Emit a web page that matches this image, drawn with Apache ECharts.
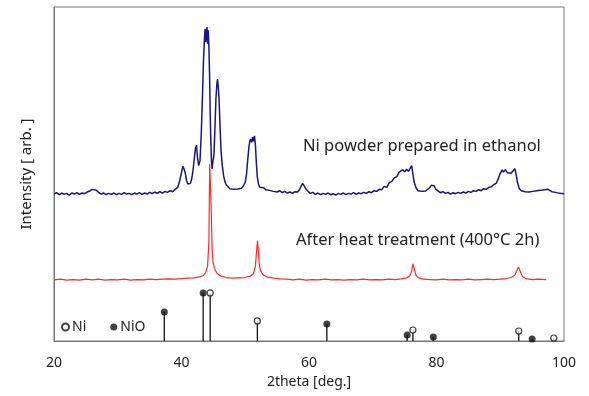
<!DOCTYPE html>
<html>
<head>
<meta charset="utf-8">
<script src="https://cdn.jsdelivr.net/npm/echarts@6/dist/echarts.min.js"></script>
<style>html,body{margin:0;padding:0;background:#fff}#c{width:589px;height:396px}</style>
</head>
<body>
<div id="c"></div>
<script>
// X-ray diffraction patterns (2theta in degrees, intensity in arbitrary units)
const niPowder = [
[20.0,44.0],[20.4,44.4],[20.8,43.8],[21.2,44.3],[21.6,43.9],[22.0,44.2],[22.4,43.7],[22.8,44.3],[23.2,44.0],[23.6,44.4],
[24.0,43.9],[24.4,44.3],[24.8,44.1],[25.2,44.6],[25.6,44.9],[26.0,45.4],[26.3,45.1],[26.6,45.2],[27.0,44.5],[27.4,44.0],
[27.8,44.3],[28.2,43.8],[28.6,44.2],[29.0,43.9],[29.4,44.3],[29.8,43.8],[30.2,44.2],[30.6,43.9],[31.0,44.4],[31.4,44.0],
[31.8,44.2],[32.2,43.8],[32.6,44.3],[33.0,44.0],[33.4,44.4],[33.8,43.9],[34.2,44.3],[34.6,44.0],[35.0,44.5],[35.4,44.1],
[35.8,44.6],[36.2,44.2],[36.6,44.7],[37.0,44.3],[37.4,44.8],[37.8,44.5],[38.2,45.0],[38.6,44.7],[39.0,45.4],[39.4,46.0],
[39.7,47.8],[40.0,50.5],[40.2,52.3],[40.4,51.5],[40.6,50.2],[40.8,48.0],[41.0,47.0],[41.2,46.6],[41.4,47.2],[41.6,48.5],
[41.8,51.0],[42.0,54.5],[42.2,57.8],[42.35,58.6],[42.5,55.0],[42.7,52.5],[42.9,54.0],[43.1,62.0],[43.3,74.0],[43.45,84.0],
[43.6,90.5],[43.7,93.5],[43.8,89.5],[43.9,92.0],[44.0,94.0],[44.1,89.0],[44.2,93.0],[44.3,88.0],[44.4,80.0],[44.5,68.0],
[44.6,60.0],[44.7,54.0],[44.8,51.5],[44.9,53.5],[45.0,54.5],[45.1,56.0],[45.25,64.0],[45.4,72.5],[45.55,77.0],[45.65,78.4],
[45.75,76.5],[45.9,72.0],[46.05,64.0],[46.2,57.0],[46.4,52.5],[46.6,49.5],[46.8,47.8],[47.0,46.8],[47.3,46.2],[47.6,45.6],
[47.9,46.0],[48.2,45.4],[48.5,45.9],[48.8,45.5],[49.1,46.0],[49.4,45.7],[49.7,46.4],[50.0,47.5],[50.2,50.0],[50.4,54.5],
[50.6,58.5],[50.8,60.5],[51.0,59.5],[51.15,61.0],[51.3,59.8],[51.45,61.4],[51.6,58.5],[51.75,53.0],[51.9,49.0],[52.1,46.8],
[52.3,46.0],[52.6,45.5],[52.9,45.9],[53.2,45.3],[53.5,45.7],[53.8,45.1],[54.1,45.4],[54.4,44.8],[54.7,45.2],[55.0,44.6],
[55.4,45.0],[55.8,44.4],[56.2,44.8],[56.6,44.3],[57.0,44.6],[57.4,44.2],[57.8,44.7],[58.2,44.6],[58.5,45.3],[58.8,46.5],
[59.0,47.2],[59.2,46.8],[59.5,45.6],[59.8,44.9],[60.2,44.2],[60.6,44.5],[61.0,43.9],[61.4,44.3],[61.8,43.8],[62.2,44.2],
[62.6,43.9],[63.0,44.3],[63.4,43.8],[63.8,44.1],[64.2,43.7],[64.6,44.2],[65.0,43.9],[65.4,44.3],[65.8,43.8],[66.2,44.2],
[66.6,44.0],[67.0,44.4],[67.4,43.9],[67.8,44.3],[68.2,44.1],[68.6,44.5],[69.0,44.2],[69.4,44.7],[69.8,44.4],[70.2,45.0],
[70.6,44.8],[71.0,45.4],[71.4,45.3],[71.8,46.3],[72.2,46.0],[72.6,47.4],[73.0,47.8],[73.4,48.9],[73.8,49.2],[74.1,50.5],
[74.4,50.0],[74.7,51.3],[75.0,50.7],[75.3,51.4],[75.6,50.8],[75.9,51.2],[76.1,52.5],[76.3,50.0],[76.5,47.5],[76.8,45.8],
[77.1,45.0],[77.4,45.5],[77.7,44.8],[78.0,45.2],[78.3,44.9],[78.6,45.4],[78.9,45.9],[79.2,46.6],[79.4,46.2],[79.6,46.5],
[79.9,45.4],[80.2,45.0],[80.6,44.4],[81.0,44.7],[81.4,44.2],[81.8,44.5],[82.2,44.0],[82.6,44.4],[83.0,44.1],[83.4,44.5],
[83.8,44.2],[84.2,44.6],[84.6,44.3],[85.0,44.8],[85.4,44.5],[85.8,45.0],[86.2,44.8],[86.6,45.3],[87.0,45.0],[87.4,45.6],
[87.8,45.4],[88.2,46.0],[88.6,46.2],[89.0,46.8],[89.4,47.3],[89.7,48.6],[90.0,50.2],[90.3,51.2],[90.5,50.6],[90.8,51.3],
[91.1,50.4],[91.4,50.9],[91.7,50.2],[92.0,50.6],[92.3,51.6],[92.5,49.8],[92.7,47.5],[93.0,45.6],[93.3,45.0],[93.6,45.3],
[93.9,44.7],[94.2,45.0],[94.5,44.6],[94.8,45.1],[95.1,44.8],[95.4,45.2],[95.7,45.0],[96.0,45.4],[96.3,45.1],[96.6,45.6],
[96.9,45.3],[97.2,45.7],[97.5,45.4],[97.8,45.2],[98.1,44.7],[98.4,45.0],[98.7,44.5],[99.0,44.7],[99.3,44.2],[99.6,44.4],
[100.0,44.1]
];
const heatTreated = [
[20,18.3],[21,18.5],[22,18.2],[23,18.4],[24,18.2],[25,18.5],[26,18.3],[27,18.5],[28,18.2],[29,18.4],
[30,18.3],[31,18.5],[32,18.2],[33,18.4],[34,18.3],[35,18.5],[36,18.4],[37,18.5],[38,18.6],[39,18.5],
[40,18.7],[41,18.8],[42,18.9],[42.8,19.2],[43.4,19.6],[43.8,20.5],[44.1,22.5],[44.3,30.0],[44.42,53.0],[44.55,46.0],
[44.65,40.0],[44.8,28.0],[44.95,23.5],[45.2,21.5],[45.6,20.2],[46.2,19.4],[47,19.0],[48,18.8],[49,18.9],[50,19.0],
[50.8,19.4],[51.3,20.2],[51.6,22.5],[51.8,27.5],[51.92,30.0],[52.05,27.0],[52.2,23.0],[52.4,21.0],[52.8,19.8],[53.5,19.1],
[54.5,18.8],[55.5,18.6],[56.5,18.5],[57.5,18.3],[58.5,18.5],[59.5,18.2],[60.5,18.4],[61.5,18.3],[62.5,18.5],[63.5,18.3],
[64.5,18.4],[65.5,18.2],[66.5,18.4],[67.5,18.3],[68.5,18.5],[69.5,18.3],[70.5,18.4],[71.5,18.3],[72.5,18.5],[73.5,18.4],
[74.5,18.6],[75.3,18.9],[75.8,19.5],[76.1,20.8],[76.3,23.1],[76.45,22.8],[76.6,21.0],[76.8,19.6],[77.2,18.9],[78,18.5],
[79,18.4],[80,18.3],[81,18.5],[82,18.3],[83,18.4],[84,18.3],[85,18.5],[86,18.3],[87,18.4],[88,18.5],
[89,18.4],[90,18.5],[91,18.7],[91.8,19.1],[92.3,19.8],[92.6,21.0],[92.85,22.2],[93.0,21.8],[93.2,20.5],[93.5,19.3],
[94,18.7],[95,18.4],[96,18.5],[97.2,18.4]
];
// reference patterns (stick positions and relative heights)
const niPos = [44.5, 51.9, 76.3, 92.9, 98.4];
const niInt = [14.4, 6.0, 3.3, 3.0, 0.9];
const nioPos = [37.3, 43.4, 62.8, 75.4, 79.5, 95.0];
const nioInt = [8.7, 14.4, 5.1, 1.8, 1.2, 0.6];
const xTicks = [20, 40, 60, 80, 100];
const labelTop = 'Ni powder prepared in ethanol';
const labelBottom = 'After heat treatment (400\u00B0C 2h)';

const FONT = 'Noto Sans';
const niPts = niPos.map((p, i) => [p, niInt[i]]);
const nioPts = nioPos.map((p, i) => [p, nioInt[i]]);
const sticks = niPts.concat(nioPts);

const chart = echarts.init(document.getElementById('c'), null, {renderer: 'canvas'});
chart.setOption({
  animation: false,
  backgroundColor: '#fff',
  textStyle: {fontFamily: FONT},
  grid: {left: 54, right: 25, top: 7, bottom: 55, show: true, borderColor: '#777', borderWidth: 1, backgroundColor: 'transparent'},
  xAxis: {
    type: 'value', min: xTicks[0], max: xTicks[xTicks.length - 1], interval: 20,
    name: '2theta [deg.]', nameLocation: 'middle', nameGap: 34,
    nameTextStyle: {fontSize: 14, color: '#222', fontFamily: FONT},
    axisLine: {show: true, lineStyle: {color: '#777'}},
    axisTick: {show: false},
    splitLine: {show: false},
    axisLabel: {fontSize: 14, color: '#222', margin: 15, fontFamily: FONT}
  },
  yAxis: {
    type: 'value', min: 0, max: 100,
    name: 'Intensity [ arb. ]', nameLocation: 'middle', nameGap: 20,
    nameTextStyle: {fontSize: 15, color: '#222', fontFamily: FONT},
    axisLine: {show: true, lineStyle: {color: '#777'}},
    axisTick: {show: false}, axisLabel: {show: false}, splitLine: {show: false}
  },
  legend: {
    data: ['Ni', 'NiO'], left: 56, top: 315, itemWidth: 7, itemHeight: 7, itemGap: 24,
    icon: 'circle',
    textStyle: {fontSize: 14, color: '#222', fontFamily: FONT, padding: [0, 0, 0, -2]}
  },
  graphic: [
    {type: 'text', left: 303, top: 138, style: {text: labelTop, font: '16.5px "' + FONT + '"', fill: '#222'}},
    {type: 'text', left: 296, top: 232, style: {text: labelBottom, font: '16.5px "' + FONT + '"', fill: '#222'}}
  ],
  series: [
    {type: 'bar', name: 'sticks', data: sticks, barWidth: 1.3, itemStyle: {color: '#111'}, silent: true},
    {type: 'line', name: 'heat', data: heatTreated, showSymbol: false, lineStyle: {color: '#ff2a2a', width: 1.2}, z: 3},
    {type: 'line', name: 'powder', data: niPowder, showSymbol: false, lineStyle: {color: '#161685', width: 1.5}, z: 4},
    {type: 'scatter', name: 'Ni', data: niPts, symbol: 'circle', symbolSize: 6,
     itemStyle: {color: '#fff', borderColor: '#111', borderWidth: 1.2}, z: 5},
    {type: 'scatter', name: 'NiO', data: nioPts, symbol: 'circle', symbolSize: 7,
     itemStyle: {color: '#111'}, z: 5}
  ]
});
</script>
</body>
</html>
